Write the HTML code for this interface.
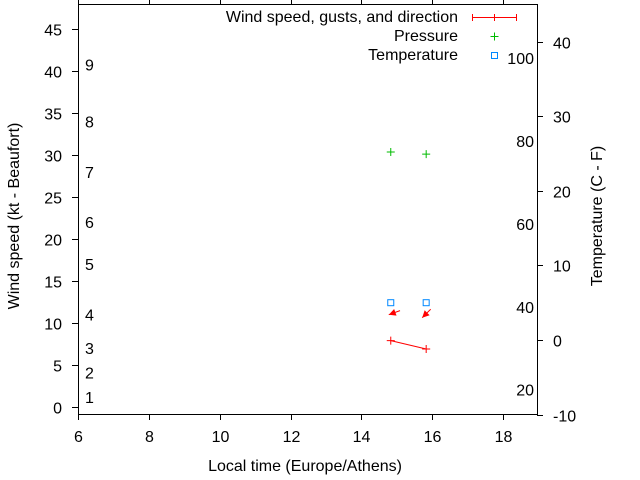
<!DOCTYPE html>
<html><head><meta charset="utf-8"><style>
body{margin:0;background:#fff}
svg{display:block;font-family:"Liberation Sans",sans-serif;font-size:16px}
</style></head><body>
<svg id="c" width="640" height="480">
<rect x="78.5" y="4.5" width="459" height="410" fill="none" stroke="#000"/>
<g id="ax"></g><g id="marks"></g>
<text x="0" y="0" transform="translate(19,216) rotate(-90)" text-anchor="middle">Wind speed (kt - Beaufort)</text>
<text x="0" y="0" transform="translate(602,216) rotate(-90)" text-anchor="middle">Temperature (C - F)</text>
<text x="305" y="471" text-anchor="middle">Local time (Europe/Athens)</text>
<g>
<text x="458" y="22" text-anchor="end">Wind speed, gusts, and direction</text>
<line x1="472" y1="17.5" x2="517" y2="17.5" stroke="#f00"/><line x1="472.5" y1="14" x2="472.5" y2="21" stroke="#f00"/><line x1="516.5" y1="14" x2="516.5" y2="21" stroke="#f00"/><line x1="494.5" y1="14" x2="494.5" y2="21" stroke="#f00"/>
<text x="458" y="41" text-anchor="end">Pressure</text>
<path d="M490.5 36.5h8M494.5 32.5v8" stroke="#0b0"/>
<text x="458" y="60" text-anchor="end">Temperature</text>
<rect x="491.5" y="52.5" width="6" height="6" fill="none" stroke="#08f"/>
</g>
</svg>
<script>
const xTicks=[6,8,10,12,14,16,18];
const yTicks=[0,5,10,15,20,25,30,35,40,45];
const y2Ticks=[-10,0,10,20,30,40];
const beaufortNums=[1,2,3,4,5,6,7,8,9];
const beaufortKt=[1.2,4.1,7.0,11.0,17.0,22.0,28.0,34.0,40.8];
const fahrLabels=[20,40,60,80,100];
const times=[14.83,15.83];
const wind=[7.9,6.9];
const pressure=[30.35,30.1];
const temperature=[5.0,5.0];
const windDir=[20,45];
const X=v=>78+(v-6)*35.42, Y=v=>407-8.4*v, Y2=v=>340-7.46*v, F=f=>Y2((f-32)*5/9);
const NS='http://www.w3.org/2000/svg';
const ax=document.getElementById('ax'), mk=document.getElementById('marks');
function el(p,t,a,txt){const e=document.createElementNS(NS,t);for(const k in a)e.setAttribute(k,a[k]);if(txt!==undefined)e.textContent=txt;p.appendChild(e);return e;}
xTicks.forEach(v=>{const x=Math.round(X(v))+.5;
 const t=el(ax,'path',{d:`M${x} 414v6M${x} 4v-4`,stroke:'#000'});
 
 
 const l=el(ax,'text',{x:x,y:442,'text-anchor':'middle'},v);
 
 });
yTicks.forEach(v=>{const y=Math.round(Y(v))+.5;
 const t=el(ax,'path',{d:`M72 ${y}h6`,stroke:'#000'});
 
 
 const l=el(ax,'text',{x:62,y:y+6,'text-anchor':'end'},v);
 
 });
y2Ticks.forEach(v=>{const y=Math.round(Y2(v))+.5;
 const t=el(ax,'path',{d:`M537 ${y}h6`,stroke:'#000'});
 
 
 const l=el(ax,'text',{x:553,y:y+6,'text-anchor':'start'},v);
 
 });
beaufortNums.forEach((n,i)=>{const l=el(ax,'text',{x:85,y:Y(beaufortKt[i])+6},n);
 
 });
fahrLabels.forEach(f=>{const l=el(ax,'text',{x:534,y:F(f)+6,'text-anchor':'end'},f);
 
 });
const ln=el(mk,'polyline',{points:times.map((t,i)=>X(t)+','+Y(wind[i])).join(' '),fill:'none',stroke:'#f00'});


times.forEach((t,i)=>{const x=X(t),y=Y(wind[i]);
 const p=el(mk,'path',{d:`M${x-4} ${y}h8M${x} ${y-4}v8`,stroke:'#f00'});
 
 
 const yp=Y(pressure[i]);
 const g=el(mk,'path',{d:`M${x-4} ${yp}h8M${x} ${yp-4}v8`,stroke:'#0b0'});
 
 
 const yt=Y2(temperature[i]);
 const s=el(mk,'rect',{x:x-3,y:yt-3,width:6,height:6,fill:'none',stroke:'#08f'});
 
 
 const a=windDir[i]*Math.PI/180, dx=Math.cos(a), dy=Math.sin(a);
 const hx=x-2+(i?-2:0), hy=yt+12+(i?3:0);
 const tx=hx+dx*12, ty=hy-dy*12;
 const ar=el(mk,'g',{});
 
 
 el(ar,'line',{x1:tx,y1:ty,x2:hx,y2:hy,stroke:'#f00'});
 const bx=hx+dx*7, by=hy-dy*7, px=-dy*3.5, py=-dx*3.5;
 el(ar,'polygon',{points:`${hx},${hy} ${bx+px},${by+py} ${bx-px},${by-py}`,fill:'#f00'});});
</script>
</body></html>
